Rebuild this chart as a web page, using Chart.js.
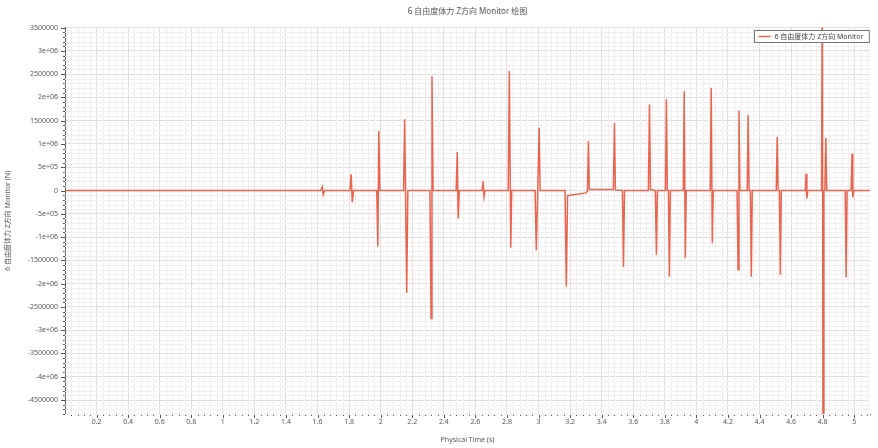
<!DOCTYPE html>
<html>
<head>
<meta charset="utf-8">
<script src="https://cdn.jsdelivr.net/npm/chart.js@4/dist/chart.umd.min.js"></script>
<style>
  html, body { margin: 0; padding: 0; background: #fff; }
  #wrap { width: 878px; height: 448px; }
</style>
</head>
<body>
<div id="wrap"><canvas id="forceChart" width="878" height="448"></canvas></div>
<script>
// physical time (s) and force (N)
const timeS = [
  0, 1.620, 1.630, 1.636, 1.645,
  1.805, 1.813, 1.820, 1.828,
  1.975, 1.982, 1.988, 1.995,
  2.145, 2.152, 2.165, 2.172,
  2.312, 2.319, 2.325, 2.332,
  2.478, 2.485, 2.491, 2.498,
  2.643, 2.649, 2.655, 2.661,
  2.808, 2.815, 2.824, 2.830,
  2.978, 2.986, 3.004, 3.010,
  3.168, 3.176, 3.184, 3.300, 3.310, 3.316, 3.322,
  3.474, 3.481, 3.487,
  3.532, 3.538, 3.545,
  3.696, 3.703, 3.709,
  3.740, 3.747, 3.753,
  3.804, 3.810, 3.816, 3.823, 3.829, 3.835,
  3.917, 3.923, 3.930, 3.936,
  4.088, 4.094, 4.101, 4.107,
  4.258, 4.264, 4.270, 4.276,
  4.322, 4.328, 4.334, 4.342, 4.348, 4.354,
  4.506, 4.512, 4.518, 4.526, 4.532, 4.538,
  4.690, 4.695, 4.700, 4.706,
  4.793, 4.798, 4.803, 4.808,
  4.814, 4.820, 4.826,
  4.943, 4.949, 4.955,
  4.980, 4.986, 4.991, 4.997,
  5.100
];
const forceN = [
  0, 0, 80000, -90000, 0,
  0, 350000, -250000, 0,
  0, -1200000, 1280000, 0,
  0, 1530000, -2200000, 0,
  0, -2750000, 2450000, 0,
  0, 830000, -600000, 0,
  0, 200000, -130000, 0,
  0, 2570000, -1230000, 0,
  0, -1280000, 1350000, 0,
  0, -2060000, -110000, -50000, -15000, 1060000, 20000,
  20000, 1450000, 10000,
  0, -1640000, 0,
  0, 1850000, 20000,
  0, -1380000, 0,
  0, 1960000, 0, 0, -1850000, 0,
  0, 2130000, -1450000, 0,
  0, 2210000, -1130000, 0,
  0, -1700000, 1720000, 0,
  0, 1620000, 0, 0, -1850000, 0,
  0, 1150000, 0, 0, -1810000, 0,
  0, 360000, -170000, 0,
  0, 5000000, -7000000, 0,
  0, 1130000, 0,
  0, -1870000, 0,
  0, 790000, -150000, 0,
  0
];

const xTicks = [0.2, 0.4, 0.6, 0.8, 1, 1.2, 1.4, 1.6, 1.8, 2, 2.2, 2.4, 2.6, 2.8, 3, 3.2, 3.4, 3.6, 3.8, 4, 4.2, 4.4, 4.6, 4.8, 5];
const yTicks = [3500000, 3000000, 2500000, 2000000, 1500000, 1000000, 500000, 0, -500000, -1000000, -1500000, -2000000, -2500000, -3000000, -3500000, -4000000, -4500000];
const yTickLabels = ['3500000', '3e+06', '2500000', '2e+06', '1500000', '1e+06', '5e+05', '0', '-5e+05', '-1e+06', '-1500000', '-2e+06', '-2500000', '-3e+06', '-3500000', '-4e+06', '-4500000'];

const seriesName = '6 自由度体力 Z方向 Monitor';
const lineColor = '#e8654f';
const FONT = '"Noto Sans", "Noto Sans CJK SC", sans-serif';

const points = timeS.map((t, i) => ({ x: t, y: forceN[i] }));

// light minor grid, small axis ticks, centred title and a boxed legend
const monitorLook = {
  id: 'monitorLook',
  afterLayout(chart) {
    // centre the title over the plot, not the whole canvas
    chart.titleBlock.left = chart.chartArea.left;
    chart.titleBlock.right = chart.chartArea.right;
  },
  beforeDatasetsDraw(chart) {
    const { ctx, chartArea: a, scales } = chart;
    const xs = scales.x, ys = scales.y;
    ctx.save();
    ctx.lineWidth = 1;
    for (let i = 1; i < 130; i++) {
      const v = i * 0.04;
      if (v > xs.max) break;
      const px = Math.round(xs.getPixelForValue(v)) + 0.5;
      if (i % 5 !== 0) {
        ctx.strokeStyle = '#f3eeee';
        ctx.beginPath(); ctx.moveTo(px, a.top); ctx.lineTo(px, a.bottom); ctx.stroke();
      }
      ctx.strokeStyle = '#555';
      ctx.beginPath(); ctx.moveTo(px, a.bottom); ctx.lineTo(px, a.bottom + (i % 5 === 0 ? 4 : 2)); ctx.stroke();
    }
    for (let i = -48; i <= 35; i++) {
      const v = i * 100000;
      const py = Math.round(ys.getPixelForValue(v)) + 0.5;
      if (i % 5 !== 0) {
        ctx.strokeStyle = '#f3eeee';
        ctx.beginPath(); ctx.moveTo(a.left, py); ctx.lineTo(a.right, py); ctx.stroke();
      }
      ctx.strokeStyle = '#555';
      ctx.beginPath(); ctx.moveTo(a.left, py); ctx.lineTo(a.left - (i % 5 === 0 ? 4 : 2), py); ctx.stroke();
    }
    ctx.restore();
  },
  afterDraw(chart) {
    const { ctx, chartArea: a } = chart;
    const ds = chart.data.datasets[0];
    ctx.save();
    ctx.font = '7px ' + FONT;
    const tw = ctx.measureText(ds.label).width;
    const h = 12, w = tw + 26;
    const x0 = Math.round(a.right - w - 1) + 0.5, y0 = Math.round(a.top + 2) + 0.5;
    ctx.fillStyle = '#fff';
    ctx.fillRect(x0, y0, w, h);
    ctx.strokeStyle = '#777';
    ctx.lineWidth = 1;
    ctx.strokeRect(x0, y0, w, h);
    ctx.strokeStyle = ds.borderColor;
    ctx.lineWidth = 1.5;
    ctx.beginPath(); ctx.moveTo(x0 + 4, y0 + h / 2); ctx.lineTo(x0 + 16, y0 + h / 2); ctx.stroke();
    ctx.fillStyle = '#444';
    ctx.textBaseline = 'middle';
    ctx.fillText(ds.label, x0 + 20, y0 + h / 2 + 0.5);
    ctx.restore();
  }
};

const ctx = document.getElementById('forceChart').getContext('2d');
const forceChart = new Chart(ctx, {
  type: 'line',
  data: {
    datasets: [{
      label: seriesName,
      data: points,
      borderColor: lineColor,
      backgroundColor: lineColor,
      borderWidth: 1.5,
      pointRadius: 0,
      tension: 0,
      fill: false
    }]
  },
  options: {
    responsive: false,
    animation: false,
    layout: { padding: { left: 0, right: 8, top: 0, bottom: 0 } },
    plugins: {
      title: {
        display: true,
        text: seriesName + ' 绘图',
        color: '#555',
        font: { family: FONT, size: 8, weight: 'normal' },
        padding: { top: 7, bottom: 11 }
      },
      legend: { display: false },
      tooltip: { enabled: false }
    },
    scales: {
      x: {
        type: 'linear',
        min: 0,
        max: 5.1,
        afterFit(scale) { scale.height = 34; },
        afterBuildTicks(scale) { scale.ticks = xTicks.map(v => ({ value: v })); },
        ticks: {
          color: '#555',
          font: { family: FONT, size: 7 },
          maxRotation: 0,
          padding: 4,
          callback: v => String(Math.round(v * 10) / 10)
        },
        grid: { color: '#e4dddd', drawTicks: false },
        border: { color: '#666' },
        title: {
          display: true,
          text: 'Physical Time (s)',
          color: '#555',
          font: { family: FONT, size: 7 },
          padding: { top: 4 }
        }
      },
      y: {
        type: 'linear',
        min: -4800000,
        max: 3500000,
        afterFit(scale) { scale.width = 65; },
        afterBuildTicks(scale) { scale.ticks = yTicks.map(v => ({ value: v })); },
        ticks: {
          color: '#555',
          font: { family: FONT, size: 7 },
          padding: 7,
          callback: v => {
            const k = yTicks.indexOf(v);
            return k >= 0 ? yTickLabels[k] : '';
          }
        },
        grid: { color: '#e4dddd', drawTicks: false },
        border: { color: '#666' },
        title: {
          display: true,
          text: seriesName + ' (N)',
          color: '#555',
          font: { family: FONT, size: 7 },
          padding: { bottom: 4 }
        }
      }
    }
  },
  plugins: [monitorLook]
});
</script>
</body>
</html>
